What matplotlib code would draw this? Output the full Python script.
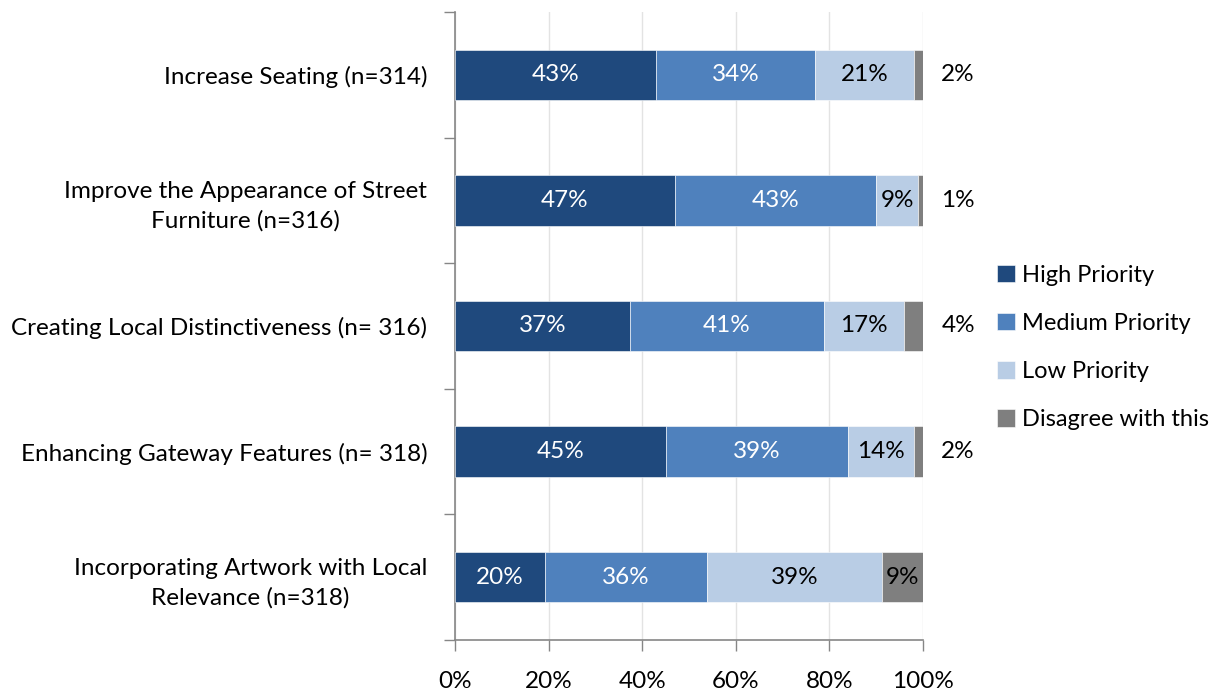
import matplotlib.pyplot as plt
import numpy as np

plt.rcParams['font.family'] = ['Lato', 'DejaVu Sans']

categories = ['Increase Seating (n=314)',
              'Improve the Appearance of Street\nFurniture (n=316)',
              'Creating Local Distinctiveness (n= 316)',
              'Enhancing Gateway Features (n= 318)',
              'Incorporating Artwork with Local\nRelevance (n=318)']
series_names = ['High Priority', 'Medium Priority', 'Low Priority', 'Disagree with this']
high = [43, 47, 37, 45, 20]
medium = [34, 43, 41, 39, 36]
low = [21, 9, 17, 14, 39]
disagree = [2, 1, 4, 2, 9]

colors = ['#1F497D', '#4F81BD', '#B9CDE5', '#7F7F7F']
text_colors = ['white', 'white', 'black', 'black']
fs = 17.5

data = np.array([high, medium, low, disagree], dtype=float)
shares = data / data.sum(axis=0) * 100

fig = plt.figure(figsize=(12.19, 6.91), dpi=100)
ax = fig.add_axes([455 / 1219, 51 / 691, 468 / 1219, 628 / 691])

y = np.arange(len(categories))
left = np.zeros(len(categories))
for i, name in enumerate(series_names):
    ax.barh(y, shares[i], left=left, height=0.4, color=colors[i], label=name,
            edgecolor='white', linewidth=0.4, zorder=3)
    for j in range(len(categories)):
        center = left[j] + shares[i][j] / 2
        if i == 3 and shares[i][j] < 5:
            ax.text(107.5, y[j], f'{int(data[i][j])}%', ha='center', va='center',
                    fontsize=fs, color='black')
        else:
            ax.text(center, y[j], f'{int(data[i][j])}%', ha='center', va='center',
                    fontsize=fs, color=text_colors[i], zorder=4)
    left += shares[i]

ax.set_xlim(0, 100)
ax.set_ylim(len(categories) - 0.5, -0.5)
ax.set_xticks(np.arange(0, 101, 20))
ax.set_xticklabels([f'{v}%' for v in range(0, 101, 20)], fontsize=fs)
ax.xaxis.grid(True, color='#E3E3E3', linewidth=1, zorder=0)

ax.set_yticks(y)
ax.set_yticklabels(categories, fontsize=fs, linespacing=1.45, multialignment='center')
ax.set_yticks(np.arange(-0.5, len(categories), 1), minor=True)
ax.tick_params(axis='y', which='major', length=0, pad=20)
ax.tick_params(axis='y', which='minor', length=8, color='#868686', width=1)
ax.tick_params(axis='x', length=8, color='#868686', width=1, pad=14)

for s in ['top', 'right']:
    ax.spines[s].set_visible(False)
for s in ['left', 'bottom']:
    ax.spines[s].set_color('#868686')
    ax.spines[s].set_linewidth(1.2)

ax.legend(loc='center left', bbox_to_anchor=(985 / 1219, 0.497), bbox_transform=fig.transFigure,
          frameon=False, fontsize=17, handlelength=0.75, handleheight=0.75,
          handletextpad=0.3, labelspacing=1.15, borderpad=0)

fig.savefig('out.png', dpi=100)
